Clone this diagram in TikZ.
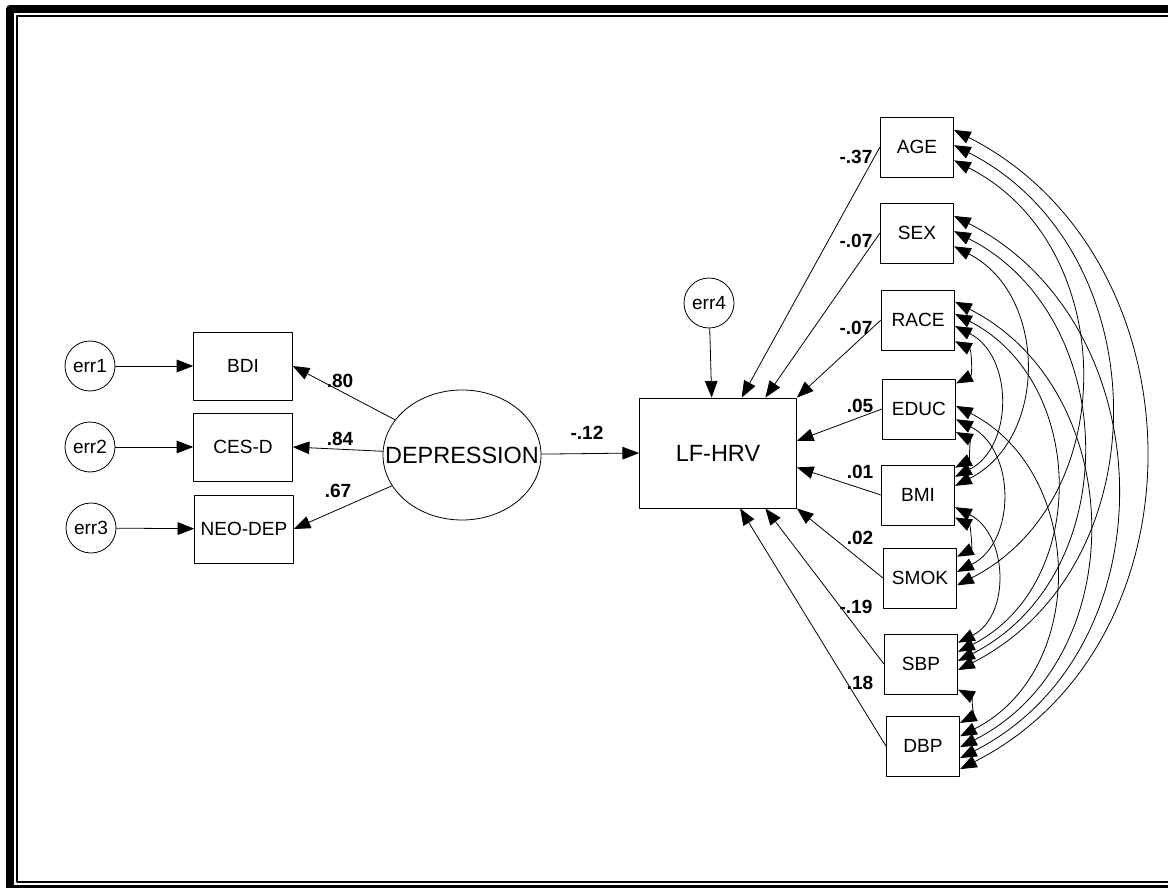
\documentclass[tikz,border=0pt]{standalone}
\usepackage{fontspec}
\setmainfont{Liberation Sans}
\usetikzlibrary{arrows.meta,calc,shapes.geometric}
\begin{document}
\begin{tikzpicture}[x=0.75pt,y=-0.75pt,>={Triangle[length=12.5pt,width=9.5pt]},
	font=\fontsize{14.3}{16}\selectfont, line join=round, line width=0.6pt,
	obsbox/.style={draw,rectangle,minimum width=74pt,minimum height=51pt,inner sep=0pt},
	covbox/.style={draw,rectangle,minimum width=55pt,minimum height=45pt,inner sep=0pt},
	errc/.style={draw,circle,minimum size=37.5pt,inner sep=0pt},
	coef/.style={font=\fontsize{14.3}{16}\selectfont\bfseries},
	corr/.style={<->,out=-27,in=27,looseness=1.12}]
	\useasboundingbox (0,0) rectangle (1168,888);
	\clip (0,0) rectangle (1168,888);
	% frame
	\draw[line width=6pt] (10,9) rectangle (1177,889);
	\draw[line width=1.5pt] (17,16) rectangle (1171,882);
	% measurement part
	\node[errc] (err1) at (90,366) {err1};
	\node[errc] (err2) at (90,447) {err2};
	\node[errc] (err3) at (91,528) {err3};
	\node[obsbox] (BDI) at (243,366) {BDI};
	\node[obsbox] (CESD) at (243,447) {CES-D};
	\node[obsbox] (NEO) at (244,529) {NEO-DEP};
	\node[draw,ellipse,minimum width=118.5pt,minimum height=97.5pt,inner sep=0pt,
		font=\fontsize{17.6}{19}\selectfont] (DEP) at (462,455) {\makebox[0pt]{DEPRESSION}};
	\node[draw,rectangle,minimum width=117.75pt,minimum height=82.5pt,inner sep=0pt,
		font=\fontsize{17.6}{19}\selectfont] (LF) at (718,453) {LF-HRV};
	\node[errc] (err4) at (709,303) {err4};
	% covariates
	\node[covbox] (AGE) at (917,147) {AGE};
	\node[covbox] (SEX) at (917,233) {SEX};
	\node[covbox] (RACE) at (918,320) {RACE};
	\node[covbox] (EDUC) at (919,409) {EDUC};
	\node[covbox] (BMI) at (918,495) {BMI};
	\node[covbox] (SMOK) at (920,578) {SMOK};
	\node[covbox] (SBP) at (921,664) {SBP};
	\node[covbox] (DBP) at (923,746) {DBP};
	% paths
	\draw[->] (err1) -- (BDI);
	\draw[->] (err2) -- (CESD);
	\draw[->] (err3) -- (NEO);
	\draw[->] (DEP) -- (BDI.east);
	\draw[->] (DEP) -- (CESD.east);
	\draw[->] (DEP) -- (NEO.east);
	\draw[->] (DEP) -- (LF.west);
	\draw[->] (err4) -- ($(LF.north west)!.46!(LF.north east)$);
	\draw[->] (AGE.west) -- ($(LF.north west)!.65!(LF.north east)$);
	\draw[->] (SEX.west) -- ($(LF.north west)!.8!(LF.north east)$);
	\draw[->] (RACE.west) -- (LF.north east);
	\draw[->] (EDUC.west) -- ($(LF.north east)!.39!(LF.south east)$);
	\draw[->] (BMI.west) -- ($(LF.north east)!.63!(LF.south east)$);
	\draw[->] (SMOK.west) -- (LF.south east);
	\draw[->] (SBP.west) -- ($(LF.south west)!.8!(LF.south east)$);
	\draw[->] (DBP.west) -- ($(LF.south west)!.64!(LF.south east)$);
	% covariances
	\foreach \a/\p/\b/\q in {AGE/.22/DBP/.88, AGE/.47/SBP/.6, AGE/.72/SMOK/.62,
		SEX/.22/DBP/.7, SEX/.47/SBP/.45, SEX/.72/BMI/.35,
		RACE/.2/DBP/.52, RACE/.4/SBP/.3, RACE/.6/BMI/.2, RACE/.85/EDUC/.08,
		EDUC/.45/DBP/.34, EDUC/.67/SMOK/.4, EDUC/.88/BMI/.05,
		BMI/.7/SBP/.15, BMI/.87/SMOK/.15, SBP/.92/DBP/.12}
		\draw[corr] ($(\a.north east)!\p!(\a.south east)$) to ($(\b.north east)!\q!(\b.south east)$);
	% coefficients
	\node[coef] (c1) at (340,381) {.80};
	\node[coef] (c2) at (340,439) {.84};
	\node[coef] (c3) at (338,491) {.67};
	\node[coef] (c4) at (587,433) {-.12};
	\node[coef] (c5) at (856,157) {-.37};
	\node[coef] (c6) at (856,241) {-.07};
	\node[coef] (c7) at (856,328) {-.07};
	\node[coef] (c8) at (860,406) {.05};
	\node[coef] (c9) at (860,472) {.01};
	\node[coef] (c10) at (860,538) {.02};
	\node[coef] (c11) at (856,607) {-.19};
	\node[coef] (c12) at (860,683) {.18};
\end{tikzpicture}
\end{document}
